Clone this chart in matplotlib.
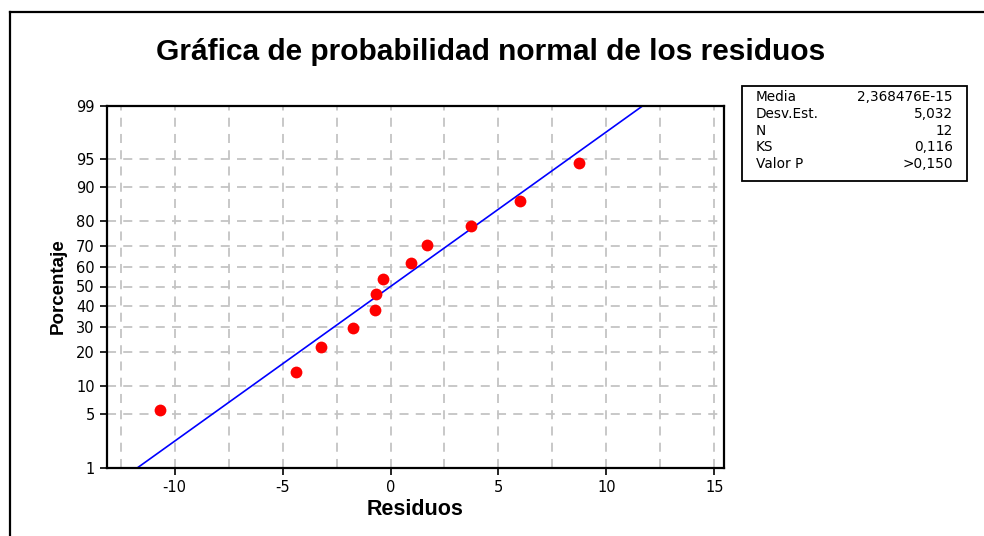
import numpy as np
import matplotlib
matplotlib.use("Agg")
import matplotlib.pyplot as plt
from matplotlib.lines import Line2D
from matplotlib.patches import Rectangle
from statistics import NormalDist

# residuals (sorted) and their plotted percentages
residuos = [-10.68, -4.40, -3.22, -1.76, -0.74, -0.66, -0.34, 0.93, 1.70, 3.71, 5.98, 8.73]
porcentaje = [5.6, 13.7, 21.8, 29.8, 37.9, 46.0, 54.0, 62.1, 70.2, 78.2, 86.3, 94.4]

media = 2.368476e-15
desv = 5.032

stat_names = ["Media", "Desv.Est.", "N", "KS", "Valor P"]
stat_values = ["2,368476E-15", "5,032", "12", "0,116", ">0,150"]

y_ticks = [1, 5, 10, 20, 30, 40, 50, 60, 70, 80, 90, 95, 99]
x_ticks = [-10, -5, 0, 5, 10, 15]
x_grid = [-12.5, -10, -7.5, -5, -2.5, 0, 2.5, 5, 7.5, 10, 12.5, 15]

nd = NormalDist()
def z(p):
    return nd.inv_cdf(p / 100.0)

fig = plt.figure(figsize=(9.84, 5.36), dpi=100)
W, H = 984, 536

# axes placed in pixel terms of the original
left, right, top, bottom = 106.7, 724, 105.5, 467.5
ax = fig.add_axes([left / W, 1 - bottom / H, (right - left) / W, (bottom - top) / H])

gridkw = dict(color="#c4c4c4", linestyle=(0, (5, 4)), linewidth=1.3, zorder=0)
for g in x_grid:
    ax.axvline(g, **gridkw)
for p in y_ticks[1:-1]:
    ax.axhline(z(p), **gridkw)

# fitted normal line from mean and std dev
pl = np.array([1, 99])
ax.plot(media + desv * np.array([z(p) for p in pl]), [z(p) for p in pl],
        color="#0000ff", linewidth=1.2, zorder=2)

ax.plot(residuos, [z(p) for p in porcentaje], "o", color="#ff0000",
        markersize=8.5, markeredgewidth=0, zorder=3)

ax.set_xlim(-13.15, 15.45)
ax.set_ylim(z(1), z(99))
ax.set_xticks(x_ticks)
ax.set_xticklabels([str(t) for t in x_ticks])
ax.set_yticks([z(p) for p in y_ticks])
ax.set_yticklabels([str(p) for p in y_ticks])
ax.tick_params(axis="both", direction="out", length=5, width=1.2, labelsize=10.5,
               colors="black")
ax.tick_params(axis="x", pad=4)
for s in ax.spines.values():
    s.set_linewidth(1.6)
ax.set_xlabel("Residuos", fontsize=15.5, fontweight="bold", family="Liberation Sans", labelpad=3)
ax.set_ylabel("Porcentaje", fontsize=13.5, fontweight="bold", family="Liberation Sans", labelpad=7)

fig.text(491 / W, 1 - 52 / H, "Gráfica de probabilidad normal de los residuos",
         ha="center", va="center", fontsize=21.5, fontweight="bold", family="Liberation Sans")

# stats box
bx0, bx1, by0, by1 = 742, 967, 86, 181
fig.patches.append(Rectangle((bx0 / W, 1 - by1 / H), (bx1 - bx0) / W, (by1 - by0) / H,
                             transform=fig.transFigure, fill=False, edgecolor="black",
                             linewidth=1.3))
for i, (n, v) in enumerate(zip(stat_names, stat_values)):
    yy = 1 - (97 + i * 16.8) / H
    fig.text(756 / W, yy, n, ha="left", va="center", fontsize=9.8)
    fig.text(953 / W, yy, v, ha="right", va="center", fontsize=9.8)

# outer border (left and top only, like the original)
fig.add_artist(Line2D([10 / W, 10 / W], [0, 1 - 12 / H], color="black", linewidth=1.6,
                      transform=fig.transFigure))
fig.add_artist(Line2D([10 / W, 1], [1 - 12 / H, 1 - 12 / H], color="black", linewidth=1.6,
                      transform=fig.transFigure))

fig.savefig("out.png", dpi=100)
